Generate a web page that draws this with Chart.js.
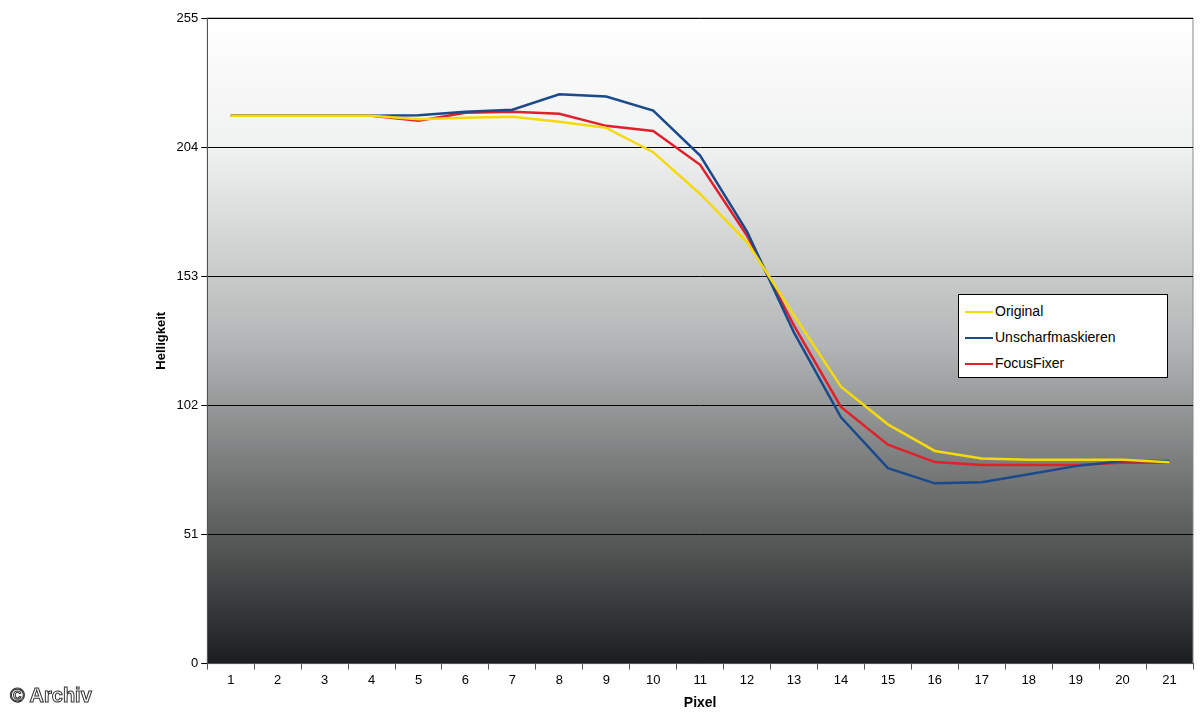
<!DOCTYPE html>
<html>
<head>
<meta charset="utf-8">
<script src="https://cdn.jsdelivr.net/npm/chart.js@4/dist/chart.umd.min.js"></script>
<style>
body { margin: 0; background: #fff; font-family: Arial, "Liberation Sans", sans-serif; }
#wrap { position: relative; width: 1200px; height: 720px; }
#legende { position: absolute; left: 958px; top: 294px; width: 208px; height: 82px; background: #fff; border: 1px solid #000; font-size: 14px; }
#legende div { height: 24px; line-height: 24px; margin-top: 2px; padding-left: 6px; }
#legende span { display: inline-block; width: 28px; height: 2px; vertical-align: middle; margin-right: 2px; }
#archiv { position: absolute; left: 10px; top: 684px; font-size: 20px; color: #fff; -webkit-text-stroke: 1px #333; font-weight: bold; }
</style>
</head>
<body>
<div id="wrap">
<canvas id="grafico" width="1200" height="720"></canvas>
<div id="legende">
  <div style="margin-top:4px"><span style="background:#f5d90a"></span>Original</div>
  <div><span style="background:#1a4a8c"></span>Unscharfmaskieren</div>
  <div><span style="background:#e0202a"></span>FocusFixer</div>
</div>
<div id="archiv">© Archiv</div>
</div>
<script>
const pixel = ['1','2','3','4','5','6','7','8','9','10','11','12','13','14','15','16','17','18','19','20','21']
const original = [216.4,216.4,216.4,216.4,215,215.6,216,214,211.6,202,185.5,166.5,137.6,109.4,94.5,84,81,80.5,80.5,80.5,79.5]
const unscharf = [216.4,216.4,216.4,216.4,216.6,218,218.8,224.9,224,218.4,200.7,170.6,130.7,97.3,77.2,71.2,71.6,74.8,78,80,80]
const focusFixer = [216.4,216.4,216.4,216.4,214.4,217.6,218,217.2,212.4,210.4,197,169,133.5,101.4,86.5,79.6,78.4,78.4,78.4,79.3,79.3]
const yTicks = [0,51,102,153,204,255]

const hintergrund = {
    id: 'hintergrund',
    beforeDraw(chart) {
        const a = chart.chartArea
        const c = chart.ctx
        const g = c.createLinearGradient(0, a.top, 0, a.bottom)
        g.addColorStop(0, '#ffffff')
        g.addColorStop(0.2, '#f0f1f1')
        g.addColorStop(0.5, '#b4b7b7')
        g.addColorStop(0.8, '#5a5c5c')
        g.addColorStop(1, '#1c1d1f')
        c.save()
        c.fillStyle = g
        c.fillRect(a.left, a.top, a.right - a.left, a.bottom - a.top)
        c.strokeStyle = '#888'
        c.strokeRect(a.left, a.top, a.right - a.left, a.bottom - a.top)
        c.restore()
    }
}

function linie(label, data, farbe) {
    return { label: label, data: data, borderColor: farbe, borderWidth: 2.5, pointRadius: 0, tension: 0, fill: false }
}

new Chart(document.getElementById('grafico'), {
    type: 'line',
    data: {
        labels: pixel,
        datasets: [
            linie('Original', original, '#f5d90a'),
            linie('Unscharfmaskieren', unscharf, '#1a4a8c'),
            linie('FocusFixer', focusFixer, '#e0202a')
        ]
    },
    options: {
        responsive: false,
        animation: false,
        layout: { padding: { left: 150, right: 7, top: 18, bottom: 4 } },
        plugins: { legend: { display: false }, tooltip: { enabled: false } },
        scales: {
            x: {
                offset: true,
                grid: { offset: true, drawOnChartArea: false, color: '#555', tickLength: 6 },
                border: { color: '#555' },
                ticks: { color: '#000', font: { size: 13 } },
                title: { display: true, text: 'Pixel', color: '#000', font: { size: 14, weight: 'bold' } }
            },
            y: {
                min: 0, max: 255,
                afterBuildTicks(axis) { axis.ticks = yTicks.map(v => ({ value: v })) },
                grid: { color: '#000', tickLength: 6 },
                border: { color: '#555' },
                ticks: { color: '#000', font: { size: 13 } },
                title: { display: true, text: 'Helligkeit', color: '#000', font: { size: 13, weight: 'bold' } }
            }
        }
    },
    plugins: [hintergrund]
})
</script>
</body>
</html>
